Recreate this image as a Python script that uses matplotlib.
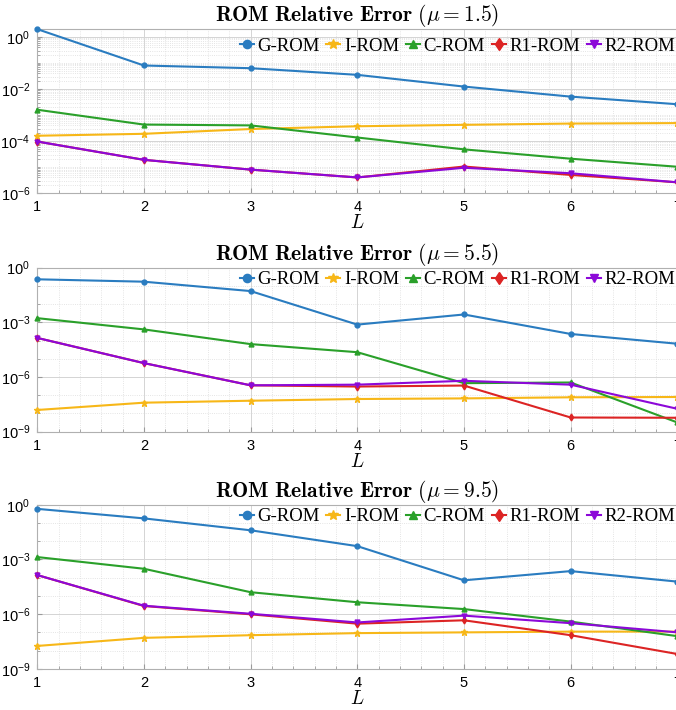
import numpy as np
import matplotlib
matplotlib.use("Agg")
import matplotlib.pyplot as plt
from matplotlib.ticker import FixedLocator, FuncFormatter, NullFormatter, MultipleLocator

L = [1, 2, 3, 4, 5, 6, 7]
mus = ["1.5", "5.5", "9.5"]

# errors for mu = 1.5
g_rom_1 = [2.0, 0.08, 0.063, 0.035, 0.0124, 5.1e-3, 2.6e-3]
i_rom_1 = [1.6e-4, 1.9e-4, 2.9e-4, 3.7e-4, 4.2e-4, 4.7e-4, 4.9e-4]
c_rom_1 = [1.6e-3, 4.3e-4, 4.0e-4, 1.37e-4, 4.8e-5, 2.1e-5, 1.03e-5]
r1_rom_1 = [9.6e-5, 1.9e-5, 8.0e-6, 4.0e-6, 1.05e-5, 5.0e-6, 2.6e-6]
r2_rom_1 = [9.6e-5, 1.9e-5, 8.0e-6, 4.0e-6, 9.4e-6, 5.8e-6, 2.6e-6]

# errors for mu = 5.5
g_rom_2 = [0.23, 0.17, 0.052, 7.5e-4, 2.7e-3, 2.3e-4, 6.7e-5]
i_rom_2 = [1.55e-8, 3.9e-8, 5.0e-8, 6.2e-8, 6.7e-8, 7.7e-8, 8.0e-8]
c_rom_2 = [1.7e-3, 4.1e-4, 6.4e-5, 2.3e-5, 4.6e-7, 5.0e-7, 3.2e-9]
r1_rom_2 = [1.4e-4, 5.8e-6, 3.5e-7, 3.0e-7, 3.4e-7, 6.0e-9, 5.8e-9]
r2_rom_2 = [1.4e-4, 5.8e-6, 3.5e-7, 3.8e-7, 6.2e-7, 3.8e-7, 1.8e-8]

# errors for mu = 9.5
g_rom_3 = [0.6, 0.18, 0.04, 5.4e-3, 7.2e-5, 2.3e-4, 6.1e-5]
i_rom_3 = [1.8e-8, 5.0e-8, 7.0e-8, 9.1e-8, 1.0e-7, 1.1e-7, 1.1e-7]
c_rom_3 = [1.36e-3, 3.1e-4, 1.6e-5, 4.5e-6, 1.9e-6, 3.9e-7, 6.2e-8]
r1_rom_3 = [1.4e-4, 2.8e-6, 9.8e-7, 3.0e-7, 4.6e-7, 7.0e-8, 6.5e-9]
r2_rom_3 = [1.4e-4, 2.9e-6, 1.05e-6, 3.5e-7, 8.3e-7, 3.2e-7, 1.0e-7]

labels = ["G-ROM", "I-ROM", "C-ROM", "R1-ROM", "R2-ROM"]
colors = ["#2a7cc0", "#f7b718", "#2aa02a", "#dc2424", "#8c08d8"]
markers = ["o", "*", "^", "d", "v"]

plt.rcParams["mathtext.fontset"] = "cm"
plt.rcParams["font.family"] = "Liberation Sans"


def log_label(v, pos):
    return r"$\mathregular{10^{%d}}$" % int(round(np.log10(v)))


def plot_panel(ax, series, mu, ylim, major, minor, leg_y):
    for vals, lab, col, mk in zip(series, labels, colors, markers):
        ax.plot(L, vals, color=col, marker=mk, ms=4.5 if mk == "*" else 3.5,
                lw=1.5, label=lab, clip_on=False, zorder=3)
    ax.set_yscale("log")
    ax.set_xlim(1, 7)
    ax.set_ylim(*ylim)
    ax.yaxis.set_major_locator(FixedLocator(major))
    ax.yaxis.set_minor_locator(FixedLocator(minor))
    ax.yaxis.set_major_formatter(FuncFormatter(log_label))
    ax.yaxis.set_minor_formatter(NullFormatter())
    ax.xaxis.set_major_locator(FixedLocator(L))
    ax.xaxis.set_minor_locator(MultipleLocator(0.2))
    ax.grid(which="major", color="#d4d4d4", lw=0.7)
    ax.grid(which="minor", color="#dcdcdc", lw=0.6, ls=":")
    ax.tick_params(which="both", direction="in", color="#9a9a9a", labelsize=10.5, pad=5)
    ax.tick_params(which="major", length=3.5)
    ax.tick_params(which="minor", length=2)
    for s in ax.spines.values():
        s.set_color("#b0b0b0")
        s.set_linewidth(0.8)
    ax.set_title(r"$\mathbf{ROM\ Relative\ Error}\ (\mu = %s)$" % mu, fontsize=15.5, pad=5)
    ax.set_xlabel(r"$L$", fontsize=14, labelpad=0)
    ax.legend(loc="upper right", ncol=5, frameon=False, handlelength=0.75,
              handletextpad=0.2, columnspacing=0.35, borderaxespad=0.05,
              markerscale=1.7, prop={"family": "Liberation Serif", "size": 13.5},
              bbox_to_anchor=(1.01, leg_y))


fig = plt.figure(figsize=(6.76, 7.10), dpi=100)
left, width, height = 0.055, 0.947, 0.231
ax1 = fig.add_axes([left, 0.728, width, height])
ax2 = fig.add_axes([left, 0.392, width, height])
ax3 = fig.add_axes([left, 0.058, width, height])

minor1 = [m * 10.0 ** e for e in range(-6, 1) for m in range(1, 10)]
plot_panel(ax1, [g_rom_1, i_rom_1, c_rom_1, r1_rom_1, r2_rom_1], mus[0], (1e-6, 2.0),
           [1e0, 1e-2, 1e-4, 1e-6], minor1, 1.0)
decades = [10.0 ** e for e in range(-9, 1)]
plot_panel(ax2, [g_rom_2, i_rom_2, c_rom_2, r1_rom_2, r2_rom_2], mus[1], (1e-9, 1.0),
           [1e0, 1e-3, 1e-6, 1e-9], decades, 1.03)
plot_panel(ax3, [g_rom_3, i_rom_3, c_rom_3, r1_rom_3, r2_rom_3], mus[2], (1e-9, 1.0),
           [1e0, 1e-3, 1e-6, 1e-9], decades, 1.03)

fig.savefig("out.png", dpi=100)
